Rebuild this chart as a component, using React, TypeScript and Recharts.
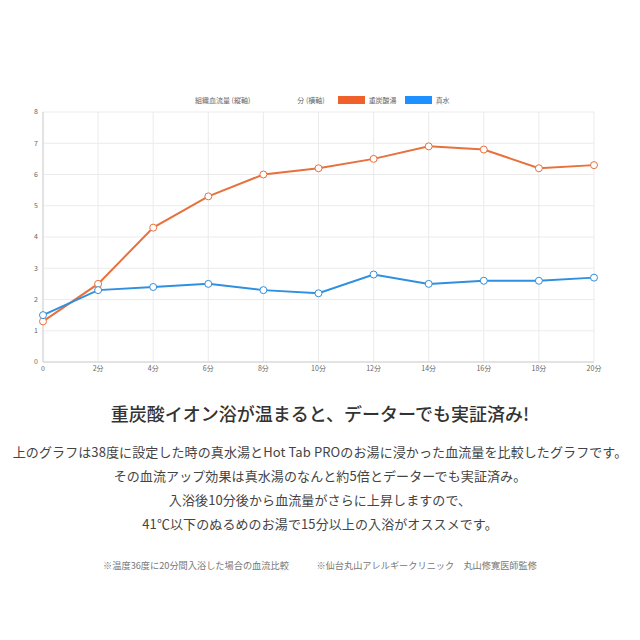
import { LineChart, Line, XAxis, YAxis, CartesianGrid, Legend } from "recharts";

const minutes = ["0", "2分", "4分", "6分", "8分", "10分", "12分", "14分", "16分", "18分", "20分"];
const bicarbonate = [1.3, 2.5, 4.3, 5.3, 6.0, 6.2, 6.5, 6.9, 6.8, 6.2, 6.3];
const plainWater = [1.5, 2.3, 2.4, 2.5, 2.3, 2.2, 2.8, 2.5, 2.6, 2.6, 2.7];
const yTicks = [0, 1, 2, 3, 4, 5, 6, 7, 8];
const axisNotes = ["組織血流量 (縦軸)", "分 (横軸)"];
const seriesNames = ["重炭酸湯", "真水"];

const ORANGE = "#e8703c";
const BLUE = "#2f8fe0";
const FONT = '"Noto Sans CJK JP", "Noto Sans", sans-serif';

const data = minutes.map((m, i) => ({
  label: m,
  carbonic: bicarbonate[i],
  water: plainWater[i],
}));

const bodyLines = [
  "上のグラフは38度に設定した時の真水湯とHot Tab PROのお湯に浸かった血流量を比較したグラフです。",
  "その血流アップ効果は真水湯のなんと約5倍とデーターでも実証済み。",
  "入浴後10分後から血流量がさらに上昇しますので、",
  "41℃以下のぬるめのお湯で15分以上の入浴がオススメです。",
];

// legend: two plain notes, then the series swatches in fixed order
function renderLegend() {
  const swatch = ["#f0602a", "#1e90ff"];
  return (
    <div
      style={{
        display: "flex",
        alignItems: "center",
        fontFamily: FONT,
        fontSize: 7,
        color: "#666",
        paddingLeft: 195,
        height: 10,
      }}
    >
      <span style={{ marginRight: 47 }}>{axisNotes[0]}</span>
      <span style={{ marginRight: 13 }}>{axisNotes[1]}</span>
      {seriesNames.map((n, i) => (
        <span key={n} style={{ display: "flex", alignItems: "center", marginRight: 8 }}>
          <span style={{ width: 27, height: 8, background: swatch[i], marginRight: 4 }} />
          {n}
        </span>
      ))}
    </div>
  );
}

const tickStyle = { fontSize: 7, fill: "#666", fontFamily: FONT };

export default function App() {
  return (
    <div
      style={{
        position: "absolute",
        left: 0,
        top: 0,
        width: 640,
        height: 640,
        background: "#fff",
        fontFamily: FONT,
      }}
    >
      <LineChart
        width={640}
        height={390}
        data={data}
        margin={{ top: 102, right: 46, left: 23, bottom: 8 }}
      >
        <CartesianGrid stroke="#ebebeb" />
        <Legend
          verticalAlign="top"
          content={renderLegend}
          wrapperStyle={{ top: 95, left: 0, width: 640 }}
        />
        <XAxis
          dataKey="label"
          tick={tickStyle}
          tickLine={false}
          axisLine={{ stroke: "#d0d0d0" }}
          tickMargin={4}
          tickSize={0}
          height={20}
          interval={0}
        />
        <YAxis
          domain={[0, 8]}
          ticks={yTicks}
          tick={tickStyle}
          tickLine={false}
          axisLine={{ stroke: "#d0d0d0" }}
          tickSize={0}
          tickMargin={5}
          width={20}
        />
        <Line
          name={seriesNames[0]}
          dataKey="carbonic"
          stroke={ORANGE}
          strokeWidth={2}
          dot={{ r: 3.5, fill: "#fff", stroke: ORANGE, strokeWidth: 1 }}
          isAnimationActive={false}
        />
        <Line
          name={seriesNames[1]}
          dataKey="water"
          stroke={BLUE}
          strokeWidth={2}
          dot={{ r: 3.5, fill: "#fff", stroke: BLUE, strokeWidth: 1 }}
          isAnimationActive={false}
        />
      </LineChart>
      <div
        style={{
          position: "absolute",
          top: 400,
          left: 0,
          width: 640,
          textAlign: "center",
          fontSize: 18,
          color: "#333",
          fontWeight: 500,
        }}
      >
        重炭酸イオン浴が温まると、データーでも実証済み!
      </div>
      <div
        style={{
          position: "absolute",
          top: 440,
          left: 0,
          width: 640,
          textAlign: "center",
          fontSize: 13,
          color: "#444",
          lineHeight: "24px",
          letterSpacing: 0.1,
        }}
      >
        {bodyLines.map((l) => (
          <div key={l}>{l}</div>
        ))}
      </div>
      <div
        style={{
          position: "absolute",
          top: 558,
          left: 0,
          width: 640,
          textAlign: "center",
          fontSize: 9.2,
          color: "#777",
          whiteSpace: "pre",
        }}
      >
        {"※温度36度に20分間入浴した場合の血流比較　　　※仙台丸山アレルギークリニック　丸山修寛医師監修"}
      </div>
    </div>
  );
}
